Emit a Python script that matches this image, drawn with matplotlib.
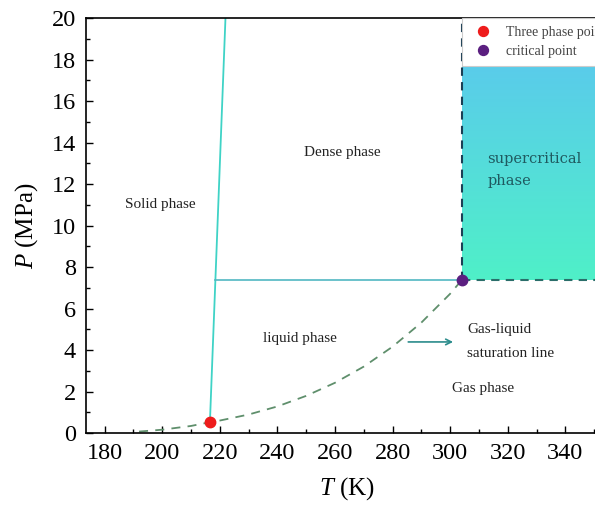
import matplotlib

matplotlib.use("Agg")
import matplotlib.pyplot as plt
import numpy as np
from matplotlib.colors import LinearSegmentedColormap

# CO2 phase diagram values
triple_T, triple_P = 216.6, 0.52
crit_T, crit_P = 304.1, 7.38

melt_T = [216.6, 222.0]
melt_P = [0.52, 20.0]

sat_T = [192.0, 200.0, 210.0, 216.6, 220.0, 230.0, 240.0, 250.0, 260.0,
         270.0, 280.0, 290.0, 300.0, 304.1]
sat_P = [0.07, 0.16, 0.34, 0.52, 0.60, 0.89, 1.28, 1.79, 2.42,
         3.20, 4.16, 5.32, 6.71, 7.38]

x_ticks = list(range(180, 360, 20))
y_ticks = list(range(0, 22, 2))

X_MIN, X_MAX = 173.4, 355.0
Y_MIN, Y_MAX = 0.0, 20.0

plt.rcParams.update({
    "font.family": ["Liberation Serif", "DejaVu Serif"],
    "mathtext.fontset": "custom",
    "mathtext.rm": "Liberation Serif",
    "mathtext.it": "Liberation Serif:italic",
    "xtick.direction": "in",
    "ytick.direction": "in",
    "xtick.top": False,
    "ytick.right": True,
})

fig = plt.figure(figsize=(5.95, 5.11), dpi=100)
ax = fig.add_axes([0.1437, 0.1526, 0.879, 0.812])

# supercritical region with vertical gradient
cmap = LinearSegmentedColormap.from_list("sc", ["#4ff0c8", "#5cc4f2"])
grad = np.linspace(0, 1, 256).reshape(-1, 1)
ax.imshow(grad, cmap=cmap, origin="lower", aspect="auto",
          extent=[crit_T, X_MAX, crit_P, Y_MAX], zorder=0)
ax.plot([crit_T, crit_T], [crit_P, Y_MAX], ls=(0, (4, 3)), color="#1b3f55", lw=1.5, zorder=2)
ax.plot([crit_T, X_MAX], [crit_P, crit_P], ls=(0, (4, 3)), color="#2a6e6a", lw=1.5, zorder=2)

# melting line and dense/liquid boundary
ax.plot(melt_T, melt_P, color="#3fd3c6", lw=1.3, zorder=2)
t_at = np.interp(crit_P, melt_P, melt_T)
ax.plot([t_at, crit_T], [crit_P, crit_P], color="#52b8c2", lw=1.2, zorder=2)

# saturation / sublimation line
ax.plot(sat_T, sat_P, ls=(0, (5, 4)), color="#5f8f6c", lw=1.3, zorder=2)

ax.plot([triple_T], [triple_P], "o", color="#ee1c1c", ms=7.5, zorder=4,
        ls="none", label="Three phase point")
ax.plot([crit_T], [crit_P], "o", color="#5b1f80", ms=7.5, zorder=4,
        ls="none", label="critical point")

txt = dict(fontsize=11, color="#222222")
ax.text(199.4, 11.0, "Solid phase", ha="center", va="center", **txt)
ax.text(262.6, 13.5, "Dense phase", ha="center", va="center", **txt)
ax.text(248.0, 4.58, "liquid phase", ha="center", va="center", **txt)
ax.text(311.6, 2.17, "Gas phase", ha="center", va="center", **txt)
ax.text(306.0, 4.39, "Gas-liquid\nsaturation line", ha="left", va="center",
        linespacing=2.1, **txt)
ax.text(313.0, 12.67, "supercritical\nphase", ha="left", va="center",
        fontsize=10.5, color="#1f5a60", linespacing=1.75, family="DejaVu Serif")

ax.annotate("", xy=(302.0, 4.39), xytext=(284.5, 4.39),
            arrowprops=dict(arrowstyle="->", color="#2b8c8c", lw=1.2))

leg = ax.legend(loc="upper left", bbox_to_anchor=(crit_T, Y_MAX),
                bbox_transform=ax.transData, borderaxespad=0, fontsize=10,
                frameon=True, fancybox=False, framealpha=1, edgecolor="#cccccc",
                handletextpad=0.6, handlelength=2.0, labelspacing=0.45,
                borderpad=0.55, markerscale=0.95)
leg.get_frame().set_linewidth(0.8)
leg.set_zorder(5)
for t in leg.get_texts():
    t.set_color("#444444")

ax.set_xlim(X_MIN, X_MAX)
ax.set_ylim(Y_MIN, Y_MAX)
ax.set_xticks(x_ticks)
ax.set_yticks(y_ticks)
ax.set_xticks(np.arange(190, 360, 20), minor=True)
ax.set_yticks(np.arange(1, 20, 2), minor=True)
ax.tick_params(which="major", length=5, width=1, labelsize=17.5, pad=7)
ax.tick_params(which="minor", length=3, width=1)
for s in ax.spines.values():
    s.set_linewidth(1.2)

ax.set_xlabel("$\\it{T}$ (K)", fontsize=18, labelpad=8)
ax.set_ylabel("$\\it{P}$ (MPa)", fontsize=18, labelpad=8)

fig.savefig("out.png", dpi=100)
